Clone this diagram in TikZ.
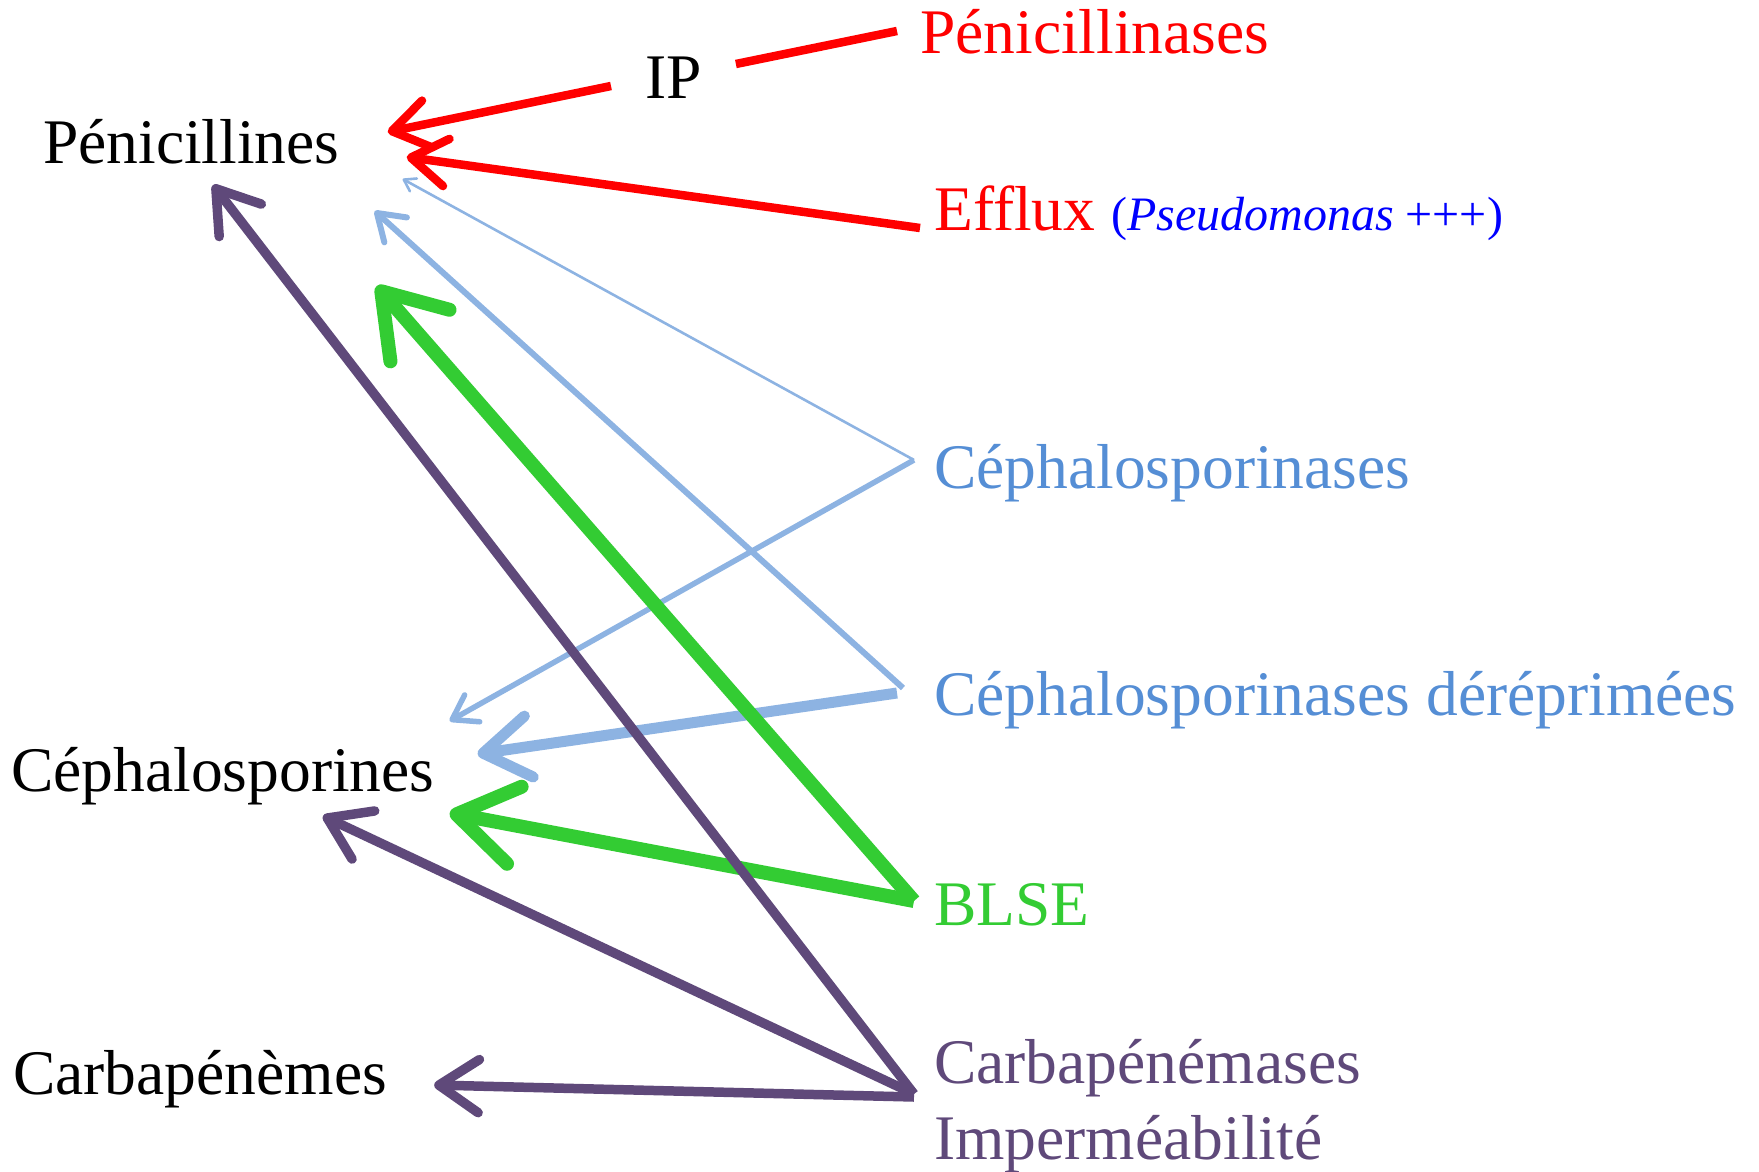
\documentclass[tikz,border=0pt]{standalone}
\usepackage{fontspec}
\setmainfont{Liberation Serif}
\usetikzlibrary{arrows.meta,calc}
\definecolor{mechred}{HTML}{FF0000}
\definecolor{cephtext}{HTML}{558ED5}
\definecolor{cephline}{HTML}{8DB3E2}
\definecolor{blsegreen}{HTML}{33CC33}
\definecolor{carbapurple}{HTML}{5F497A}
\definecolor{pseudoblue}{HTML}{0000FF}
\begin{document}
\begin{tikzpicture}[x=1pt,y=-1pt,
  lbl/.style={anchor=base west,inner sep=0pt,font=\fontsize{63.5}{76}\selectfont},
  tipped/.style={line cap=butt,-{Straight Barb[length=0pt 4.2,width=0pt 5.6,line cap=round,round]}},
  redln/.style={draw=mechred,line width=8.5pt},
  cephln/.style={draw=cephline},
  blseln/.style={draw=blsegreen,line width=14pt},
  carbaln/.style={draw=carbapurple,line width=9.5pt},
]
\useasboundingbox (0,0) rectangle (1759,1172);

% antibiotic families (left column)
\node[lbl] (pen)   at (43,163)  {Pénicillines};
\node[lbl] (cephs) at (11,791)  {Céphalosporines};
\node[lbl] (carbs) at (13,1094) {Carbapénèmes};

% resistance mechanisms (right column)
\node[lbl] (ip)     at (645,99)  {IP};
\node[lbl,text=mechred] (pnase) at (920,54) {Pénicillinases};
\node[lbl,text=mechred] (efflux) at (934,230) {Efflux};
\node[lbl,text=pseudoblue,font=\fontsize{48}{58}\selectfont] (pseudo) at (1111,230) {(\textit{Pseudomonas} +++)};
\node[lbl,text=cephtext] (ceph)  at (934,488) {Céphalosporinases};
\node[lbl,text=cephtext] (cephd) at (934,715) {Céphalosporinases déréprimées};
\node[lbl,text=blsegreen] (blse) at (934,925) {BLSE};
\node[lbl,text=carbapurple] (carba) at (934,1083) {Carbapénémases};
\node[lbl,text=carbapurple] (imper) at (934,1159) {Imperméabilité};

% source points of the connectors
\coordinate (sPnase) at ($(pnase.base west)+(-23,-23)$);
\coordinate (sEfflux) at ($(efflux.base west)+(-14,-2)$);
\coordinate (sCeph) at ($(ceph.base west)+(-20,-28)$);
\coordinate (sCephdA) at ($(cephd.base west)+(-31,-27)$);
\coordinate (sCephdB) at ($(cephd.base west)+(-37,-22)$);
\coordinate (sBlse) at ($(blse.base west)+(-20,-24)$);
\coordinate (sCarba) at ($(carba.base west)+(-20,11)$);

% light blue: cephalosporinases
\draw[cephln,line width=2.6pt,tipped] (sCeph) -- ($(pen.base east)+(63,16)$);
\draw[cephln,line width=6pt,tipped] (sCephdA) -- ($(pen.base east)+(35,48)$);
\draw[cephln,line width=5.5pt,tipped] (sCeph) -- ($(cephs.base east)+(15,-70)$);
\draw[cephln,line width=11pt,tipped] (sCephdB) -- ($(cephs.base east)+(43,-37)$);

% green: BLSE
\draw[blseln,tipped] (sBlse) -- ($(pen.base east)+(37,123)$);
\draw[blseln,tipped] (sBlse) -- ($(cephs.base east)+(15,22)$);

% purple: carbapenemases / impermeability
\draw[carbaln,tipped] (sCarba) -- ($(pen.base west)+(170,22)$);
\draw[carbaln,tipped] (sCarba) -- ($(cephs.base west)+(312,25)$);
\draw[carbaln,tipped] ($(sCarba)+(0,3)$) -- ($(carbs.base east)+(47,-9)$);

% red: penicillinases (via IP) and efflux
\draw[redln] (sPnase) -- ($(ip.base east)+(34,-35)$);
\draw[redln,tipped] ($(ip.base west)+(-34,-13)$) -- ($(pen.base east)+(48,-31)$);
\draw[redln,tipped] (sEfflux) -- ($(pen.base east)+(67,-6)$);
\end{tikzpicture}
\end{document}
